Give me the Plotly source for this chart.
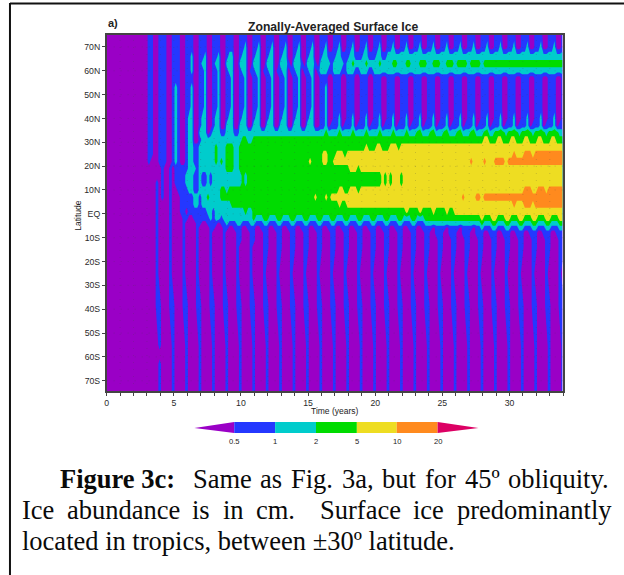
import plotly.graph_objects as go

W, H = 624, 575
# Time samples: five per year, latitude rows.
# Digit = colour class: 0 <0.5, 1 0.5-1, 2 1-2, 3 2-5, 4 5-10, 5 10-20 (cm of ice)
years_per_sample = 0.2
lats = [75, 70, 66, 63, 60, 57, 53, 45, 40, 37, 34, 31, 28, 25, 22, 19, 16, 13, 10, 7, 4, 1,
        -2, -4, -6, -8, -11, -14, -25, -38, -55, -59, -63, -75]

r75 = ("00000 00000 00000 01100 11100 11100 11100 11100 11100 11100 "
       "11100 11100 11100 11100 11100 11100 11100 11100 11100 11100 "
       "11100 11100 11100 11100 11100 11100 11100 11100 11100 11100 "
       "11100 11100 11100 11100 1")
r70 = ("00000 00000 00000 01100 11100 11100 11100 11100 11100 11100 "
       "11200 11200 11200 11200 11200 11200 11200 11200 11200 11200 "
       "11200 11200 11200 11200 11200 11200 11200 11200 11200 11200 "
       "11200 11200 11200 11200 1")
r66 = ("00000 00000 00000 01100 11100 11100 11200 11200 11200 12200 "
       "12200 12200 12200 12200 12200 12200 12211 12211 12211 12211 "
       "12211 22222 22222 22222 22222 22222 22222 22222 22222 22222 "
       "22222 22222 22222 22222 2")
r63 = ("00000 00000 00000 01100 11100 11100 11200 12200 12200 22200 "
       "22200 22200 22200 22210 22210 22210 22221 22221 22322 22322 "
       "22322 22332 22332 22333 22333 22333 23333 23333 23333 33333 "
       "33333 33333 33333 33333 3")
r60 = ("00000 00000 00000 01100 11100 11100 11200 11200 11200 12200 "
       "12201 12201 12201 12201 12201 12201 22211 22211 22211 22211 "
       "22222 22222 22222 22222 22222 22222 22222 22222 22222 22222 "
       "22222 22222 22222 22222 2")
r57 = ("00000 00000 00000 01100 11100 11100 11100 11200 11200 11200 "
       "11200 11200 11200 11200 11200 11200 11100 11100 11100 11100 "
       "11100 11100 11100 11100 11100 11100 11100 11100 11100 11100 "
       "11100 11100 11100 11100 1")
r53 = ("00000 00000 00000 01100 11100 12100 11200 11200 11200 11200 "
       "11200 11200 11200 11200 11200 11200 11200 11100 11100 11100 "
       "11100 11100 11100 11100 11100 11100 11100 11100 11100 11100 "
       "11100 11100 11100 11100 1")
r45 = ("00000 00000 00000 01100 11100 12100 11200 11200 11200 11200 "
       "11200 11200 11200 11200 11200 11200 11200 11100 11100 11100 "
       "11100 11100 11100 11100 11100 11100 11100 11100 11100 11100 "
       "11100 11100 11100 11100 1")
r40 = ("00000 00000 00000 01100 11100 12100 12200 12200 12200 12200 "
       "12200 12200 12200 12200 12200 12200 11200 11200 11200 11200 "
       "11200 11200 11200 11200 11200 11200 11200 11200 11200 11200 "
       "11200 11200 11200 11200 1")
r37 = ("00000 00000 00000 01100 11100 12100 12200 12200 12200 22200 "
       "22200 22200 22200 22200 22200 22200 11201 11201 11201 11201 "
       "11201 11201 11201 11201 11201 11201 11201 11201 11201 11201 "
       "11201 11201 11201 11201 1")
r34 = ("00000 00000 00000 01100 11100 12100 12200 22201 22211 22211 "
       "22222 22222 22222 22222 22222 22222 22322 22322 22322 22322 "
       "22322 22322 22322 23322 23322 23322 23322 23322 23322 33332 "
       "33332 33332 33332 33332 2")
r31 = ("00000 00000 00000 01100 11100 12100 12200 12222 22222 22222 "
       "23322 33333 33333 33333 33333 33333 33333 33333 33333 33333 "
       "33333 33333 33333 33333 33333 33333 33333 33333 34433 34433 "
       "34433 34433 34433 34433 3")
r28 = ("00000 00000 00000 01100 11100 12100 12211 22222 23222 33322 "
       "33333 33333 33333 33333 33333 33333 33333 33333 33333 33433 "
       "34433 34443 44444 44444 44444 44444 44444 44444 44444 44444 "
       "44444 44444 44444 44444 4")
r25 = ("00000 00000 00000 01100 11100 12100 12211 22222 23222 33322 "
       "33333 33333 33333 33333 33333 33333 34433 34443 44444 44444 "
       "44444 44444 44444 44444 44444 44444 44444 44444 44444 44444 "
       "44544 45554 55555 55555 5")
r22 = ("00000 00000 00000 01000 11100 12100 12211 22222 23232 33322 "
       "33333 33333 33333 33333 33333 34333 34433 44444 44444 44444 "
       "44444 44444 44444 44444 44444 44444 44444 45444 45444 55554 "
       "55555 55555 55555 55555 5")
r19 = ("00000 00000 00000 00000 01001 01111 12221 22222 22222 33322 "
       "33333 33333 33333 33333 33333 33333 33333 33333 34443 44444 "
       "44444 44444 44444 44444 44444 44444 44444 44444 44444 44444 "
       "44444 44444 44444 44444 4")
r16 = ("00000 00000 00000 00000 01001 01111 22211 21121 22222 22222 "
       "23233 33333 33333 33333 33333 33333 33333 33333 33333 33333 "
       "33343 43444 34444 44444 44444 44444 44444 44444 44444 44444 "
       "44444 44444 44444 44444 4")
r13 = ("00000 00000 00000 00001 01001 01111 22211 21121 22222 22222 "
       "23233 33333 33333 33333 33333 33333 33333 33333 33333 33333 "
       "33343 43444 34444 44444 44444 44444 44444 44444 44444 44444 "
       "44444 44444 44444 44444 4")
r10 = ("00000 00000 00000 00001 01001 00111 12211 22222 22233 23333 "
       "33333 33333 33333 33333 33333 33333 33333 33443 34443 44444 "
       "44444 44444 44444 44444 44444 44444 44444 44444 44444 44444 "
       "44444 45554 45554 55555 5")
r07 = ("00000 00000 00000 00001 01001 00011 11122 12232 22233 33333 "
       "33333 33333 33333 33333 33333 33343 33434 44444 44444 44444 "
       "44444 44444 44444 44444 44444 44444 44454 44455 45555 55555 "
       "55555 55555 55555 55555 5")
r04 = ("00000 00000 00000 00001 00001 00011 11122 12222 22222 22333 "
       "33333 33333 33333 33333 33333 33333 33333 33433 44444 44444 "
       "44444 44444 44444 44444 44444 44444 44444 44444 44444 44444 "
       "44544 45554 55555 55555 5")
r01 = ("00000 00000 00000 00001 00001 00011 01111 11122 12222 22222 "
       "22322 33333 33333 33333 33333 33333 33333 33333 33333 33333 "
       "33333 33333 33433 33433 33433 33433 44444 44444 44444 44444 "
       "44444 44444 44444 44444 4")
s02 = ("00000 00000 00000 00001 00001 00001 10011 11112 12212 22222 "
       "22222 32223 32223 32223 32223 32223 32223 32223 32223 32223 "
       "32223 32223 32223 32223 33333 33333 33333 33333 43334 43334 "
       "43334 43334 43334 43334 4")
s04 = ("00000 00000 00000 00001 00001 00001 00001 10011 11011 21112 "
       "21112 21112 21112 21112 21112 21112 21112 21112 21112 21112 "
       "21112 21112 21112 21112 22222 22222 22222 22222 32223 32223 "
       "32223 32223 32223 32223 3")
s06 = ("00000 00000 00000 00001 00001 00001 00001 00001 10001 10011 "
       "10011 10011 10011 10011 10011 10011 10011 10011 10011 10011 "
       "10011 10011 10011 10011 11011 11011 11011 11011 21112 21112 "
       "21112 21112 21112 21112 2")
s08 = ("00000 00000 00000 00001 00001 00001 00001 00001 00001 00001 "
       "10001 10001 10001 10001 10001 10001 10001 10001 10001 10001 "
       "10001 10001 10001 10001 10011 10011 10011 10011 10011 10011 "
       "10011 10011 10011 10011 1")
s11 = ("00000 00000 00000 00001 00001 00001 00001 00001 00001 00001 "
       "10001 10001 10001 10001 10001 10001 10001 10001 10001 10001 "
       "10001 10001 10001 10001 10001 10001 10001 10001 10001 10001 "
       "10001 10001 10001 10001 1")
s14 = ("00000 00000 00000 00001 00001 00001 00001 00001 00001 00001 "
       "00001 00001 10001 10001 10001 10001 10001 10001 10001 10001 "
       "10001 10001 10001 10001 10001 10001 10001 10001 10001 10001 "
       "10001 10001 10001 10001 1")
s25 = ("00000 00000 00000 00001 00001 00001 00001 00001 00001 00001 "
       "00001 00001 00001 00001 00001 00001 00001 00001 00001 00001 "
       "00001 00001 00001 00001 00001 00001 00001 00001 00001 00001 "
       "00001 00001 00001 00001 0")
s38 = ("00000 00000 00000 00001 10001 10001 10001 10001 10001 10001 "
       "10001 10001 10001 10001 10001 10001 10001 10001 10001 10001 "
       "10001 10001 10001 10001 10001 10001 10001 10001 10001 10001 "
       "10001 10001 10001 10001 1")
s55 = ("00000 00000 00000 00000 10000 10000 10000 10000 10000 10000 "
       "10000 10000 10000 10000 10000 10000 10000 10000 10000 10000 "
       "10000 10000 10000 10000 10000 10000 10000 10000 10000 10000 "
       "10000 10000 10000 10000 1")
s59 = ("00000 00000 00000 00000 00000 10000 10000 10000 10000 10000 "
       "10000 10000 10000 10000 10000 10000 10000 10000 10000 10000 "
       "10000 10000 10000 10000 10000 10000 10000 10000 10000 10000 "
       "10000 10000 10000 10000 1")
s63 = ("00000 00000 00000 00000 10000 10000 10000 10000 10000 10000 "
       "10000 10000 10000 10000 10000 10000 10000 10000 10000 10000 "
       "10000 10000 10000 10000 10000 10000 10000 10000 10000 10000 "
       "10000 10000 10000 10000 1")
s75 = ("00000 00000 00000 00000 10000 10000 10000 10000 10000 10000 "
       "10000 10000 10000 10000 10000 10000 10000 10000 10000 10000 "
       "10000 10000 10000 10000 10000 10000 10000 10000 10000 10000 "
       "10000 10000 10000 10000 1")

rows = [r75, r70, r66, r63, r60, r57, r53, r45, r40, r37, r34, r31, r28, r25, r22, r19, r16,
        r13, r10, r07, r04, r01, s02, s04, s06, s08, s11, s14, s25, s38, s55, s59, s63, s75]

class_colors = ["#9A00C6", "#2438FF", "#00CCCC", "#00DC00", "#EEDD22", "#FF8A1E", "#DC0064"]
bar_labels = ["0.5", "1", "2", "5", "10", "20"]
y_ticks = [70, 60, 50, 40, 30, 20, 10, 0, -10, -20, -30, -40, -50, -60, -70]
y_labels = ["70N", "60N", "50N", "40N", "30N", "20N", "10N", "EQ", "10S", "20S", "30S", "40S", "50S", "60S", "70S"]
x_ticks = [0, 5, 10, 15, 20, 25, 30]

z = []
for r in rows:
    digits = [int(c) for c in r.replace(" ", "")]
    assert len(digits) == 171, len(digits)
    z.append(digits)
x = [i * years_per_sample - 0.05 for i in range(171)]

def px(v): return v / W
def py(v): return 1 - v / H

stops = []
n = 6
for i, c in enumerate(class_colors[:6]):
    stops += [[max(0, (i - .5) / (n - 1)), c], [min(1, (i + .5) / (n - 1)), c]]

fig = go.Figure(go.Contour(
    x=x, y=lats, z=z, zmin=0, zmax=5, autocontour=False,
    contours=dict(start=.5, end=4.5, size=1, coloring="fill", showlines=False),
    line=dict(width=0, smoothing=0), colorscale=stops, showscale=False, hoverinfo="skip"))

axis_col = "#444"
tick_font = dict(family="Liberation Sans", size=8.7, color="#2a2a2a")
fig.update_layout(
    width=W, height=H, margin=dict(l=0, r=0, t=0, b=0), paper_bgcolor="white", plot_bgcolor="white",
    showlegend=False,
    xaxis=dict(domain=[px(105), px(563)], range=[0, 34], tickvals=x_ticks, ticks="outside", ticklen=3,
               tickwidth=1, tickcolor=axis_col, tickfont=tick_font, showgrid=False, zeroline=False,
               showline=True, linecolor=axis_col, linewidth=1.5, mirror=True,
               minor=dict(dtick=1, ticks="outside", ticklen=3, tickwidth=1, tickcolor=axis_col, showgrid=False)),
    yaxis=dict(domain=[py(391), py(35)], range=[-74.3, 75], tickvals=y_ticks, ticktext=y_labels, ticks="outside",
               ticklen=3, tickwidth=1, tickcolor=axis_col, tickfont=tick_font, showgrid=False, zeroline=False,
               showline=True, linecolor=axis_col, linewidth=1.5, mirror=True),
)

shapes = [
    dict(type="line", xref="paper", yref="paper", x0=px(8), x1=1, y0=py(3.5), y1=py(3.5), line=dict(color="#111", width=2)),
    dict(type="line", xref="paper", yref="paper", x0=px(8), x1=px(8), y0=py(3), y1=0, line=dict(color="#111", width=2)),
]
# faint dotted grid drawn over the filled contours
grid_line = dict(color="rgba(70,70,70,0.22)", width=1, dash="1px,6px")
for yr in range(1, 34):
    shapes.append(dict(type="line", xref="x", yref="paper", x0=yr, x1=yr, y0=py(391), y1=py(35), line=grid_line, layer="above"))
for lat in y_ticks:
    shapes.append(dict(type="line", xref="paper", yref="y", x0=px(105), x1=px(563), y0=lat, y1=lat, line=grid_line, layer="above"))
def poly(pts, color):
    path = "M " + " L ".join(f"{px(a):.5f},{py(b):.5f}" for a, b in pts) + " Z"
    shapes.append(dict(type="path", xref="paper", yref="paper", path=path, fillcolor=color, line=dict(width=0)))
edges = [233, 274, 315, 356, 396, 437]
poly([(193, 428), (233, 422), (233, 433)], class_colors[0])
for i in range(5):
    poly([(edges[i], 422), (edges[i + 1], 422), (edges[i + 1], 433), (edges[i], 433)], class_colors[i + 1])
poly([(437, 422), (478, 428), (437, 433)], class_colors[6])
fig.update_layout(shapes=shapes)

def note(text, xp, yp, size, family="Liberation Sans", anchor="center", color="#222", angle=0, shift=0):
    fig.add_annotation(text=text, x=px(xp), y=py(yp), xref="paper", yref="paper", showarrow=False,
                       xanchor=anchor, yanchor="middle", textangle=angle, xshift=shift,
                       font=dict(family=family, size=size, color=color))

note("<b>Zonally-Averaged Surface Ice</b>", 332.5, 27, 12.2)
note("<b>a)</b>", 111, 23, 11)
note("Latitude", 76, 215, 8.5, angle=-90)
note("Time (years)", 334, 411, 8.5)
for lab, e in zip(bar_labels, edges):
    note(lab, e, 441, 7.6)

serif = "Liberation Serif"
ink = "#0a0a0a"
for word, xp in [("<b>Figure 3c:</b>", 60), ("Same", 193.3), ("as", 261.1), ("Fig.", 292.1), ("3a,", 343),
                 ("but", 383.5), ("for", 426.3), ("45º", 466.1), ("obliquity.", 509.7)]:
    note(word, xp, 479, 26.5, serif, "left", ink, shift=-4)
for word, xp in [("Ice", 22), ("abundance", 67.1), ("is", 193.1), ("in", 223.5), ("cm.", 256.8),
                 ("Surface", 321.2), ("ice", 414.8), ("predominantly", 458.4)]:
    note(word, xp, 510, 26.5, serif, "left", ink, shift=-4)
note("located in tropics, between ±30º latitude.", 22, 541, 26.5, serif, "left", ink, shift=-4)

fig.write_html("out.html", config=dict(displayModeBar=False),
               post_script="document.body.style.margin='0';document.documentElement.style.overflow='hidden';")
